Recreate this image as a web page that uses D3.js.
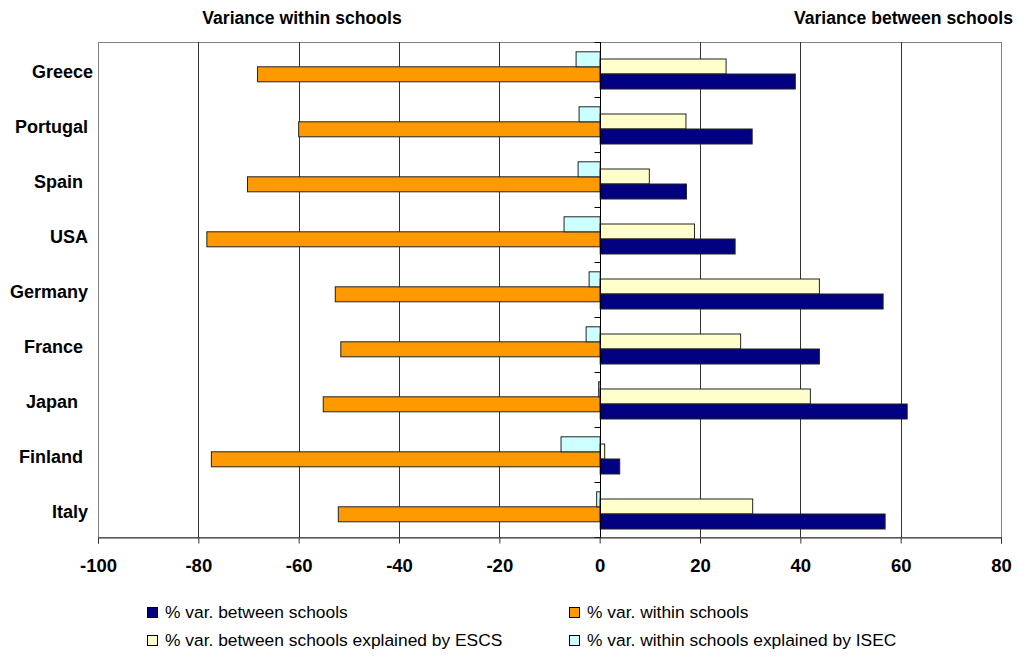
<!DOCTYPE html>
<html>
<head>
<meta charset="utf-8">
<script src="https://cdn.jsdelivr.net/npm/d3@7"></script>
<style>
  body { margin: 0; background: #fff; }
  text { font-family: "Liberation Sans", Arial, Helvetica, sans-serif; fill: #000; }
</style>
</head>
<body>
<svg id="chart" width="1018" height="656"></svg>
<script>
// Countries (labels keep the trailing spaces of the source sheet)
const countries = ["Greece", "Portugal\u00a0", "Spain\u00a0\u00a0", "USA\u00a0", "Germany\u00a0",
                   "France\u00a0\u00a0", "Japan\u00a0\u00a0\u00a0", "Finland\u00a0\u00a0", "Italy\u00a0"];

// % of variance in performance
const varBetween      = [38.9, 30.3, 17.2, 26.9, 56.4, 43.7, 61.2, 3.9, 56.8];
const varWithin       = [-68.3, -60.1, -70.3, -78.4, -52.8, -51.7, -55.2, -77.5, -52.2];
const varBetweenESCS  = [25.1, 17.1, 9.8, 18.8, 43.7, 28.0, 41.9, 0.9, 30.4];
const varWithinISEC   = [-4.8, -4.2, -4.4, -7.2, -2.2, -2.8, -0.3, -7.8, -0.7];

const xTicks = [-100, -80, -60, -40, -20, 0, 20, 40, 60, 80];
const seriesNames = ["% var. between schools", "% var. within schools",
                     "% var. between schools explained by ESCS", "% var. within schools explained by ISEC"];
const seriesColors = ["#000080", "#FF9900", "#FFFFCC", "#CCFFFF"];
const headings = ["Variance within schools", "Variance between schools"];

const svg = d3.select("#chart");
const plot = { left: 98, right: 1001, top: 42, bottom: 537 };

const x = d3.scaleLinear().domain([-100, 80]).range([plot.left, plot.right]);
const y = d3.scaleBand().domain(countries).range([plot.top, plot.bottom]).padding(0);
const bw = y.bandwidth();
const barH = bw * 15 / 55;

// Within-school bars sit a little higher in each band than the between-school bars
const leftPair = d3.scaleBand().domain(["isec", "within"]).range([bw * 9.3 / 55, bw * 9.3 / 55 + 2 * barH]);
const rightPair = d3.scaleBand().domain(["escs", "between"]).range([bw * 16.5 / 55, bw * 16.5 / 55 + 2 * barH]);

// Plot frame
svg.append("rect")
  .attr("x", plot.left + 0.5).attr("y", plot.top + 0.5)
  .attr("width", plot.right - plot.left).attr("height", plot.bottom - plot.top)
  .attr("fill", "#fff").attr("stroke", "#808080").attr("stroke-width", 1);

// Vertical gridlines
svg.append("g").selectAll("line")
  .data(xTicks.filter(d => d !== -100 && d !== 80 && d !== 0))
  .join("line")
  .attr("x1", d => Math.round(x(d)) + 0.5).attr("x2", d => Math.round(x(d)) + 0.5)
  .attr("y1", plot.top).attr("y2", plot.bottom)
  .attr("stroke", "#333").attr("stroke-width", 1);

// Bars
const rows = countries.map((c, i) => ({
  c,
  isec: varWithinISEC[i], within: varWithin[i], escs: varBetweenESCS[i], between: varBetween[i]
}));
const layers = [
  { key: "within", color: seriesColors[1], band: leftPair },
  { key: "isec", color: seriesColors[3], band: leftPair },
  { key: "escs", color: seriesColors[2], band: rightPair },
  { key: "between", color: seriesColors[0], band: rightPair }
];
const barsG = svg.append("g");
layers.forEach(L => {
  barsG.append("g").selectAll("rect")
    .data(rows)
    .join("rect")
    .attr("x", d => Math.min(x(0), x(d[L.key])) + 0.5)
    .attr("y", d => y(d.c) + L.band(L.key) + 0.5)
    .attr("width", d => Math.abs(x(d[L.key]) - x(0)))
    .attr("height", barH)
    .attr("fill", L.color)
    .attr("stroke", "#222").attr("stroke-width", 1);
});

// Category axis through zero
const zx = Math.round(x(0)) + 0.5;
svg.append("line").attr("x1", zx).attr("x2", zx).attr("y1", plot.top).attr("y2", plot.bottom)
  .attr("stroke", "#000").attr("stroke-width", 1);
svg.append("g").selectAll("line")
  .data(countries.map(c => y(c)).concat([plot.bottom]))
  .join("line")
  .attr("x1", zx - 6).attr("x2", zx)
  .attr("y1", d => Math.round(d) + 0.5).attr("y2", d => Math.round(d) + 0.5)
  .attr("stroke", "#000");

// Country labels
svg.append("g").selectAll("text")
  .data(countries)
  .join("text")
  .attr("x", 93)
  .attr("y", d => y(d) + bw / 2 + 8)
  .attr("text-anchor", "end")
  .attr("font-size", 18).attr("font-weight", "bold")
  .text(d => d);

// Value axis (plain hyphen for negatives)
const xAxis = svg.append("g")
  .attr("transform", `translate(0,${plot.bottom + 0.5})`)
  .call(d3.axisBottom(x).tickValues(xTicks).tickSize(6).tickPadding(15).tickFormat(d => String(d)));
xAxis.select(".domain").attr("stroke", "#333");
xAxis.selectAll(".tick line").attr("stroke", "#333");
xAxis.selectAll(".tick text")
  .attr("font-size", 18.5).attr("font-weight", "bold")
  .attr("font-family", "'Liberation Sans', Arial, sans-serif")
  .attr("fill", "#000");

// Headings
svg.append("text").attr("x", 302).attr("y", 24).attr("text-anchor", "middle")
  .attr("font-size", 17.6).attr("font-weight", "bold").text(headings[0]);
svg.append("text").attr("x", 1013).attr("y", 24).attr("text-anchor", "end")
  .attr("font-size", 17.6).attr("font-weight", "bold").text(headings[1]);

// Legend
const legendPos = [[147, 607], [569, 607], [147, 635], [569, 635]];
const legend = svg.append("g").selectAll("g")
  .data(seriesNames.map((n, i) => ({ n, color: seriesColors[i], p: legendPos[i] })))
  .join("g")
  .attr("transform", d => `translate(${d.p[0]},${d.p[1]})`);
legend.append("rect")
  .attr("x", 0.5).attr("y", 0.5).attr("width", 10).attr("height", 10)
  .attr("fill", d => d.color).attr("stroke", "#000");
legend.append("text")
  .attr("x", 18).attr("y", 11)
  .attr("font-size", 17.4)
  .text(d => d.n);
</script>
</body>
</html>
